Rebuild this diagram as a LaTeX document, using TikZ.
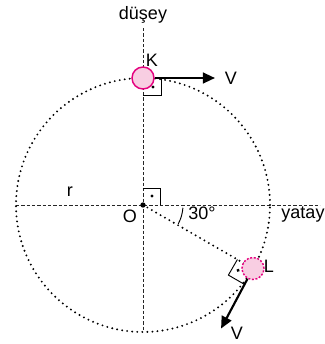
\documentclass[tikz,border=0pt]{standalone}
\usepackage{fontspec}
\setmainfont{Liberation Sans}
\usetikzlibrary{arrows.meta,calc}
\usepackage{xcolor}
\definecolor{ballpink}{RGB}{248,206,226}
\definecolor{ballrim}{RGB}{228,0,126}

\begin{document}
\begin{tikzpicture}[x=0.75pt, y=0.75pt,
  axis/.style={draw=black!85, line width=0.65pt, dash pattern=on 2.4pt off 1.6pt},
  orbit/.style={draw=black, line width=1.6pt, line cap=round, dash pattern=on 0pt off 3.8pt},
  ball/.style={circle, minimum size=16.5pt, inner sep=0pt, fill=ballpink, draw=ballrim, line width=1.1pt},
  vel/.style={-{Triangle[length=9pt,width=8pt]}, line width=1.6pt},
  rmark/.style={draw=black, line width=0.7pt},
  lbl/.style={font=\fontsize{13.5}{15}\selectfont, inner sep=0pt}
]
\useasboundingbox (-143,-139) rectangle (182,205);
\coordinate (O) at (0,0);
\coordinate (top) at (0,177);
\coordinate (bot) at (0,-125);
\coordinate (left) at (-127,0);
\coordinate (right) at (177,0);
% axes and path
\draw[axis] (top) -- (bot);
\draw[axis] (left) -- (right);
\draw[orbit] (O) circle[radius=127];
\draw[orbit] (O) -- (-30:127);
% right angles
\draw[rmark] (0,110) -- (18,110) -- (18,127);
\fill (10,118) circle[radius=1.3pt];
\draw[rmark] (0,17) -- (17,17) -- (17,0);
\fill (9,9) circle[radius=1.3pt];
\fill (O) circle[radius=2pt];
\draw[rmark] ($(O)+(-28:40)$) arc[start angle=-28, end angle=-4, radius=40];
% balls
\node[ball] (K) at (0,127) {};
\begin{scope}[shift={(-30:127)}, rotate=150]
  \draw[rmark] (18,0) -- (18,18) -- (0,18);
  \fill (12,9) circle[radius=1.3pt];
\end{scope}
\node[ball, dash pattern=on 1.5pt off 1.2pt] (L) at (-30:127) {};
% velocities
\coordinate (vK) at (72,127);
\coordinate (vL) at ($(L)+(-118:68)$);
\draw[vel] (K) -- (vK);
\draw[vel] (L) -- (vL);
% labels
\node[lbl] (dusey) at (0,190) {düşey};
\node[lbl] (yatay) at (160,-10) {yatay};
\node[lbl] (lblK) at (9,145) {K};
\node[lbl] (lblL) at (126,-61) {L};
\node[lbl] (lblO) at (-13,-11) {O};
\node[lbl] (lblr) at (-73,13) {r};
\node[lbl] (ang) at (59,-8) {30°};
\node[lbl] (vKl) at (88,127) {V};
\node[lbl] (vLl) at (94,-128) {V};
\end{tikzpicture}
\end{document}
